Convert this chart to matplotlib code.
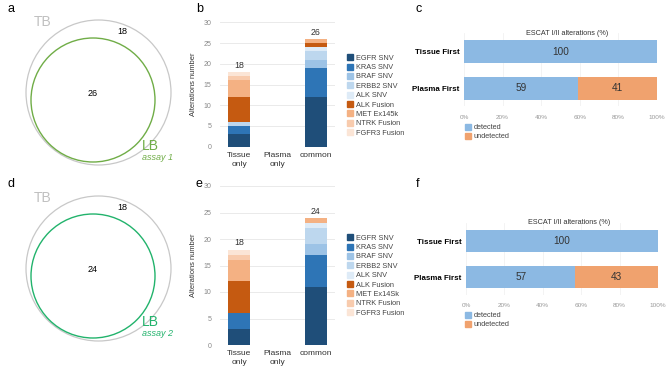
import numpy as np
import matplotlib.pyplot as plt
from matplotlib.patches import Circle, Patch

plt.rcParams['font.family'] = ['Liberation Sans', 'DejaVu Sans']

W, H = 669, 371

# Venn counts (TB only, overlap) for assay 1 and assay 2
venn_tb_only = [18, 18]
venn_common = [26, 24]
assays = ['assay 1', 'assay 2']

# Stacked bars: alterations per group
groups = ['Tissue\nonly', 'Plasma\nonly', 'common']
alterations = ['EGFR SNV', 'KRAS SNV', 'BRAF SNV', 'ERBB2 SNV', 'ALK SNV',
               'ALK Fusion', 'MET Ex14Sk', 'NTRK Fusion', 'FGFR3 Fusion']
# rows = alteration, cols = group
counts_b = [[3, 0, 12], [2, 0, 7], [0, 0, 2], [1, 0, 2], [0, 0, 1],
            [6, 0, 1], [4, 0, 1], [1, 0, 0], [1, 0, 0]]
counts_e = [[3, 0, 11], [3, 0, 6], [0, 0, 2], [0, 0, 3], [0, 0, 1],
            [6, 0, 0], [4, 0, 1], [1, 0, 0], [1, 0, 0]]
legend_names_b = ['EGFR SNV', 'KRAS SNV', 'BRAF SNV', 'ERBB2 SNV', 'ALK SNV',
                  'ALK Fusion', 'MET Ex145k', 'NTRK Fusion', 'FGFR3 Fusion']

# ESCAT I/II detection (%)
strategies = ['Tissue First', 'Plasma First']
detected_c = [100, 59]
undetected_c = [0, 41]
detected_f = [100, 57]
undetected_f = [0, 43]

alt_colors = ['#1f4e79', '#2e75b6', '#9dc3e6', '#bdd7ee', '#deebf7',
              '#c55a11', '#f4b183', '#f8cbad', '#fbe5d6']
det_color = '#8cb9e3'
undet_color = '#f0a26e'
green = ['#70ad47', '#22b36c']


def px(l, t, r, b):
    return [l / W, 1 - b / H, (r - l) / W, (b - t) / H]


fig = plt.figure(figsize=(W / 100, H / 100), dpi=100)

# overlay for letters and venn diagrams
ov = fig.add_axes([0, 0, 1, 1])
ov.set_xlim(0, W)
ov.set_ylim(H, 0)
ov.axis('off')
for lab, x, y in [('a', 8, 9), ('b', 196, 9), ('c', 416, 9),
                  ('d', 8, 184), ('e', 196, 184), ('f', 416, 184)]:
    ov.text(x, y, lab, fontsize=9, va='center', ha='left')

for i, dy in enumerate([0, 176]):
    ov.add_patch(Circle((98.5, 92.5 + dy), 72.5, fill=False, ec='#c8c8c8', lw=0.9))
    ov.add_patch(Circle((93, 100 + dy), 62, fill=False, ec=green[i], lw=1.0))
    ov.text(43, 22 + dy, 'TB', color='#c0c0c0', fontsize=10, va='center', ha='center')
    ov.text(122, 32 + dy, str(venn_tb_only[i]), fontsize=6.5, va='center', ha='center')
    ov.text(93, 94 + dy, str(venn_common[i]), fontsize=6.5, va='center', ha='center')
    ov.text(150, 146 + dy, 'LB', color=green[i], fontsize=10, va='center', ha='center')
    ov.text(158, 157 + dy, assays[i], color=green[i], fontsize=6.5, style='italic',
            va='center', ha='center')


def stacked(rect, counts, legend_names, legend_top):
    ax = fig.add_axes(px(*rect))
    x = np.arange(len(groups))
    bottom = np.zeros(len(groups))
    handles = []
    for name, vals, col in zip(legend_names, counts, alt_colors):
        ax.bar(x, vals, 0.57, bottom=bottom, color=col, linewidth=0)
        bottom += np.array(vals)
        handles.append(Patch(color=col, label=name))
    for xi, tot in zip(x, bottom):
        if tot > 0:
            ax.text(xi, tot + 0.4, f'{int(tot)}', ha='center', va='bottom',
                    fontsize=6.3, color='#333333')
    ax.set_xlim(-0.5, 2.5)
    ax.set_ylim(0, 30)
    ax.set_yticks(range(0, 31, 5))
    ax.set_xticks(x)
    ax.set_xticklabels(groups, fontsize=6, color='#333333', linespacing=1.4)
    ax.tick_params(axis='y', labelsize=5, colors='#888888', length=0, pad=6)
    ax.tick_params(axis='x', length=0, pad=3.5)
    ax.yaxis.grid(True, color='#e6e6e6', lw=0.6)
    ax.set_axisbelow(True)
    for s in ax.spines.values():
        s.set_visible(False)
    ax.set_ylabel('Alterations number', fontsize=5.4, color='#333333', labelpad=5)
    fig.legend(handles=handles, loc='upper left',
               bbox_to_anchor=(343 / W, 1 - legend_top / H), frameon=False,
               fontsize=5.3, handlelength=0.9, handleheight=0.9,
               handletextpad=0.35, labelspacing=0.24, borderpad=0,
               labelcolor='#444444')
    return ax


stacked((220, 22.3, 335, 146.7), counts_b, legend_names_b, 50.5)
stacked((220, 186, 335, 345), counts_e, alterations, 230.5)


def hbar(rect, det, undet, legend_y):
    ax = fig.add_axes(px(*rect))
    y = np.arange(len(strategies))
    ax.barh(y, det, 0.63, color=det_color, linewidth=0)
    ax.barh(y, undet, 0.63, left=det, color=undet_color, linewidth=0)
    for yi, d, u in zip(y, det, undet):
        if d > 0:
            ax.text(d / 2, yi, str(d), ha='center', va='center', fontsize=7.2,
                    color='#333333')
        if u > 0:
            ax.text(d + u / 2, yi, str(u), ha='center', va='center', fontsize=7.2,
                    color='#333333')
    ax.set_xlim(0, 100)
    ax.set_ylim(1.5, -0.5)
    ax.set_xticks(range(0, 101, 20))
    ax.set_xticklabels([f'{v}%' for v in range(0, 101, 20)])
    ax.tick_params(axis='x', labelsize=4.6, colors='#999999', length=0, pad=6)
    ax.set_yticks(y)
    ax.set_yticklabels(strategies, fontsize=5.7, fontweight='bold')
    ax.tick_params(axis='y', length=0, pad=3)
    ax.xaxis.grid(True, color='#eeeeee', lw=0.5)
    ax.set_axisbelow(True)
    for s in ax.spines.values():
        s.set_visible(False)
    ax.text(0.535, 1.0, 'ESCAT I/II alterations (%)', transform=ax.transAxes,
            ha='center', va='center', fontsize=5.2, color='#333333')
    handles = [Patch(color=det_color, label='detected'),
               Patch(color=undet_color, label='undetected')]
    fig.legend(handles=handles, loc='upper left',
               bbox_to_anchor=(461 / W, 1 - legend_y / H), frameon=False,
               fontsize=5.3, handlelength=0.9, handleheight=0.9,
               handletextpad=0.35, labelspacing=0.2, borderpad=0,
               labelcolor='#444444')
    return ax


hbar((464, 33.3, 657, 106.3), detected_c, undetected_c, 120)
hbar((466, 223, 658, 295), detected_f, undetected_f, 308)

fig.savefig('out.png', dpi=100)
